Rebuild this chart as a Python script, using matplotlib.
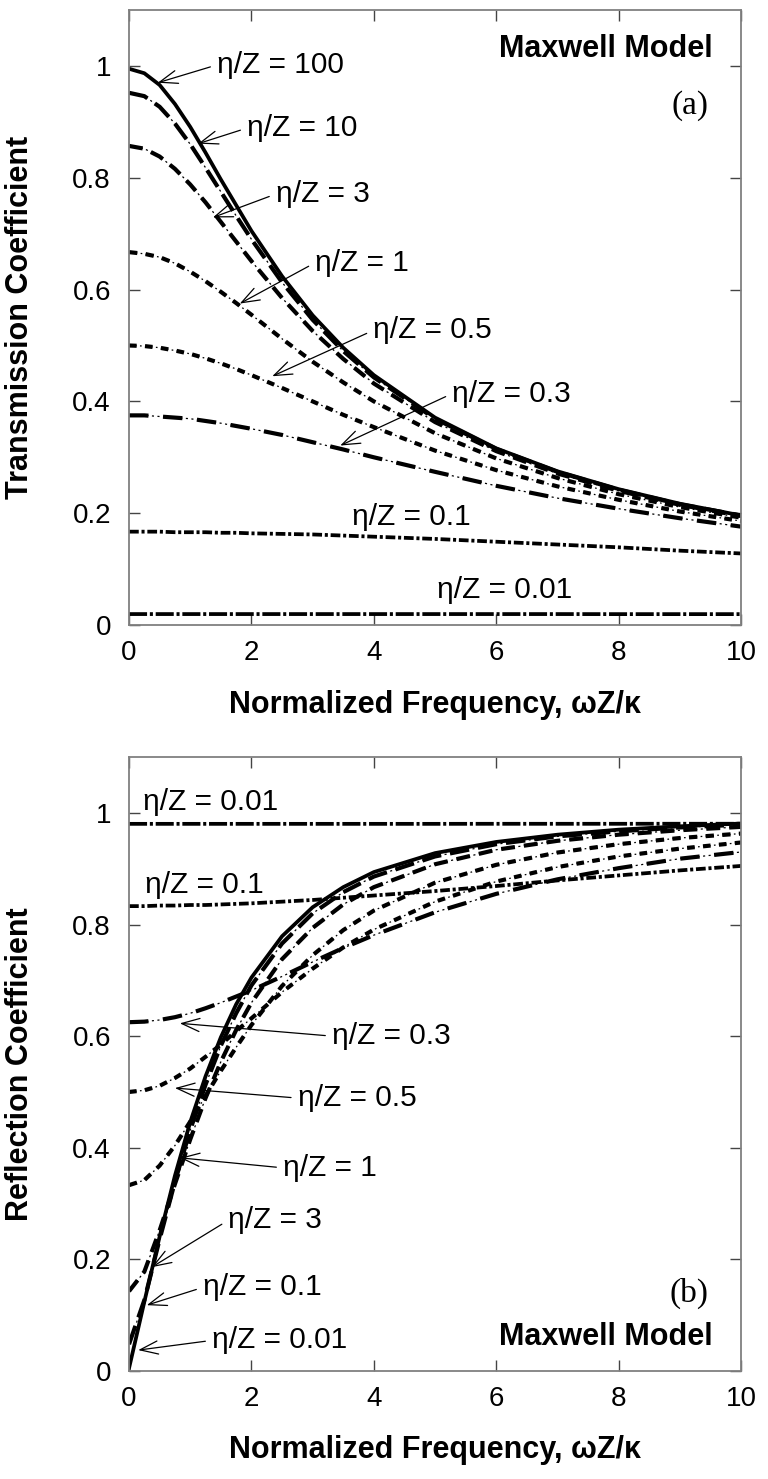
import matplotlib
matplotlib.use("Agg")
import matplotlib.pyplot as plt
from matplotlib.ticker import FormatStrFormatter

plt.rcParams["font.family"] = ["Liberation Sans", "DejaVu Sans"]
plt.rcParams["lines.scale_dashes"] = False

# normalized frequency wZ/k
freq = [0, 0.25, 0.5, 0.75, 1, 1.25, 1.5, 1.75, 2, 2.5, 3, 3.5, 4, 5, 6, 7, 8, 9, 10]

# transmission coefficient, one list per eta/Z
t_100 = [0.995, 0.987, 0.966, 0.932, 0.891, 0.845, 0.797, 0.751, 0.705, 0.624, 0.554, 0.496, 0.447, 0.371, 0.316, 0.275, 0.243, 0.217, 0.196]
t_10 = [0.952, 0.946, 0.927, 0.897, 0.860, 0.818, 0.775, 0.732, 0.690, 0.613, 0.546, 0.490, 0.443, 0.369, 0.315, 0.274, 0.242, 0.216, 0.196]
t_3 = [0.857, 0.852, 0.838, 0.816, 0.788, 0.756, 0.721, 0.686, 0.651, 0.585, 0.526, 0.476, 0.432, 0.363, 0.311, 0.271, 0.240, 0.215, 0.195]
t_1 = [0.667, 0.664, 0.658, 0.647, 0.632, 0.615, 0.596, 0.576, 0.555, 0.512, 0.471, 0.434, 0.400, 0.343, 0.298, 0.263, 0.234, 0.211, 0.192]
t_05 = [0.500, 0.499, 0.496, 0.491, 0.485, 0.477, 0.468, 0.458, 0.447, 0.424, 0.400, 0.376, 0.354, 0.312, 0.277, 0.248, 0.224, 0.203, 0.186]
t_03 = [0.375, 0.375, 0.373, 0.371, 0.369, 0.365, 0.361, 0.356, 0.351, 0.340, 0.327, 0.314, 0.300, 0.274, 0.249, 0.227, 0.208, 0.191, 0.176]
t_01 = [0.167, 0.167, 0.167, 0.166, 0.166, 0.166, 0.165, 0.165, 0.164, 0.163, 0.162, 0.160, 0.158, 0.154, 0.149, 0.144, 0.139, 0.133, 0.128]
t_001 = [0.0196, 0.0196, 0.0196, 0.0196, 0.0196, 0.0196, 0.0196, 0.0196, 0.0196, 0.0196, 0.0196, 0.0196, 0.0196, 0.0196, 0.0196, 0.0196, 0.0195, 0.0195, 0.0195]

# reflection coefficient
r_100 = [0.005, 0.124, 0.241, 0.350, 0.446, 0.528, 0.598, 0.657, 0.705, 0.779, 0.831, 0.867, 0.894, 0.928, 0.948, 0.961, 0.970, 0.976, 0.981]
r_10 = [0.048, 0.127, 0.236, 0.339, 0.432, 0.513, 0.583, 0.641, 0.691, 0.766, 0.820, 0.858, 0.886, 0.922, 0.944, 0.958, 0.967, 0.974, 0.979]
r_3 = [0.143, 0.178, 0.252, 0.335, 0.415, 0.489, 0.554, 0.611, 0.660, 0.738, 0.794, 0.836, 0.867, 0.908, 0.934, 0.950, 0.961, 0.969, 0.975]
r_1 = [0.333, 0.342, 0.368, 0.404, 0.447, 0.493, 0.538, 0.580, 0.620, 0.690, 0.745, 0.790, 0.825, 0.875, 0.907, 0.929, 0.944, 0.955, 0.963]
r_05 = [0.500, 0.503, 0.511, 0.525, 0.542, 0.563, 0.585, 0.609, 0.632, 0.679, 0.721, 0.759, 0.791, 0.841, 0.877, 0.903, 0.922, 0.936, 0.947]
r_03 = [0.625, 0.626, 0.629, 0.634, 0.641, 0.650, 0.660, 0.671, 0.682, 0.707, 0.733, 0.758, 0.781, 0.822, 0.855, 0.881, 0.901, 0.918, 0.930]
r_01 = [0.833, 0.833, 0.834, 0.834, 0.835, 0.835, 0.836, 0.837, 0.838, 0.841, 0.844, 0.848, 0.852, 0.860, 0.869, 0.879, 0.888, 0.897, 0.905]
r_001 = [0.9804, 0.9804, 0.9804, 0.9804, 0.9804, 0.9804, 0.9804, 0.9804, 0.9804, 0.9804, 0.9804, 0.9804, 0.9804, 0.9804, 0.9805, 0.9805, 0.9805, 0.9806, 0.9806]

# (dash, gap, n dots, dot length, thick dots?) in points; None = solid
STYLES = {
    "100": None,
    "10": (14, 2.5, 1, 1.5, False),
    "3": (10, 2.5, 1, 1.5, False),
    "1": (6, 2.4, 1, 1.2, False),
    "0.5": (5.5, 2.4, 1, 1.2, False),
    "0.3": (14, 2.5, 2, 1.5, False),
    "0.1": (7, 2.0, 1, 2.2, True),
    "0.01": (13, 2.0, 1, 2.2, True),
}

TRANS = [("100", t_100), ("10", t_10), ("3", t_3), ("1", t_1),
         ("0.5", t_05), ("0.3", t_03), ("0.1", t_01), ("0.01", t_001)]
REFL = [("100", r_100), ("10", r_10), ("3", r_3), ("1", r_1),
        ("0.5", r_05), ("0.3", r_03), ("0.1", r_01), ("0.01", r_001)]


def draw(ax, y, style):
    if style is None:
        ax.plot(freq, y, color="k", lw=2.7)
        return
    dash, gap, ndots, dot, thick_dots = style
    thin = [dash] + [gap, dot] * ndots + [gap]
    if thick_dots:
        ax.plot(freq, y, color="k", lw=2.7, linestyle=(0, thin), dash_capstyle="butt")
        return
    thick = [dash, gap * (ndots + 1) + dot * ndots]
    ax.plot(freq, y, color="k", lw=0.9, linestyle=(0, thin), dash_capstyle="butt")
    ax.plot(freq, y, color="k", lw=3.0, linestyle=(0, thick), dash_capstyle="butt")


def style_axes(ax, ylabel):
    ax.set_xlim(0, 10)
    ax.set_ylim(0, 1.1)
    ax.set_xticks([0, 2, 4, 6, 8, 10])
    ax.set_yticks([0, 0.2, 0.4, 0.6, 0.8, 1.0])
    ax.yaxis.set_major_formatter(FormatStrFormatter("%g"))
    ax.tick_params(direction="in", top=True, right=True, length=8, width=1,
                   color="#444444", labelsize=20)
    ax.tick_params(axis="x", pad=11)
    ax.tick_params(axis="y", pad=13)
    for sp in ax.spines.values():
        sp.set_color("#808080")
        sp.set_linewidth(1.3)
    ax.set_xlabel("Normalized Frequency, ωZ/κ", fontsize=22, fontweight="bold")
    ax.xaxis.set_label_coords(0.5, -0.105)
    ax.set_ylabel(ylabel, fontsize=22, fontweight="bold")
    ax.yaxis.set_label_coords(-0.154, 0.5)


ARROW = dict(arrowstyle="->,head_length=0.6,head_width=0.22", lw=0.9, color="k",
             shrinkA=3, shrinkB=0, relpos=(0, 0.5))


def label(ax, text, pos, tip=None):
    if tip is None:
        ax.text(pos[0], pos[1], text, fontsize=21.5, ha="left", va="center")
    else:
        ax.annotate(text, xy=tip, xytext=pos, fontsize=21.5, ha="left", va="center",
                    arrowprops=ARROW)


fig = plt.figure(figsize=(7.68, 14.79), dpi=100)
ax1 = fig.add_axes([0.168, 0.5774, 0.797, 0.4158])
ax2 = fig.add_axes([0.168, 0.0730, 0.797, 0.4151])

# ---- (a) transmission ----
for key, y in TRANS:
    draw(ax1, y, STYLES[key])
style_axes(ax1, "Transmission Coefficient")
label(ax1, "η/Z = 100", (1.44, 1.002), (0.47, 0.970))
label(ax1, "η/Z = 10", (1.93, 0.889), (1.13, 0.861))
label(ax1, "η/Z = 3", (2.40, 0.771), (1.37, 0.729))
label(ax1, "η/Z = 1", (3.04, 0.648), (1.81, 0.575))
label(ax1, "η/Z = 0.5", (3.99, 0.527), (2.34, 0.445))
label(ax1, "η/Z = 0.3", (5.28, 0.414), (3.45, 0.321))
label(ax1, "η/Z = 0.1", (3.64, 0.193))
label(ax1, "η/Z = 0.01", (5.03, 0.0625))
ax1.text(9.54, 1.030, "Maxwell Model", fontsize=22, fontweight="bold", ha="right", va="center")
ax1.text(9.46, 0.929, "(a)", fontsize=24, family="Liberation Serif", ha="right", va="center")

# ---- (b) reflection ----
for key, y in REFL:
    draw(ax2, y, STYLES[key])
style_axes(ax2, "Reflection Coefficient")
label(ax2, "η/Z = 0.01", (0.23, 1.020))
label(ax2, "η/Z = 0.1", (0.26, 0.871))
label(ax2, "η/Z = 0.3", (3.32, 0.600), (0.83, 0.623))
label(ax2, "η/Z = 0.5", (2.76, 0.489), (0.75, 0.507))
label(ax2, "η/Z = 1", (2.52, 0.364), (0.83, 0.382))
label(ax2, "η/Z = 3", (1.62, 0.270), (0.37, 0.186))
label(ax2, "η/Z = 0.1", (1.21, 0.150), (0.29, 0.118))
label(ax2, "η/Z = 0.01", (1.36, 0.055), (0.15, 0.0375))
ax2.text(9.46, 0.139, "(b)", fontsize=24, family="Liberation Serif", ha="right", va="center")
ax2.text(9.54, 0.061, "Maxwell Model", fontsize=22, fontweight="bold", ha="right", va="center")

fig.savefig("out.png", dpi=100)
